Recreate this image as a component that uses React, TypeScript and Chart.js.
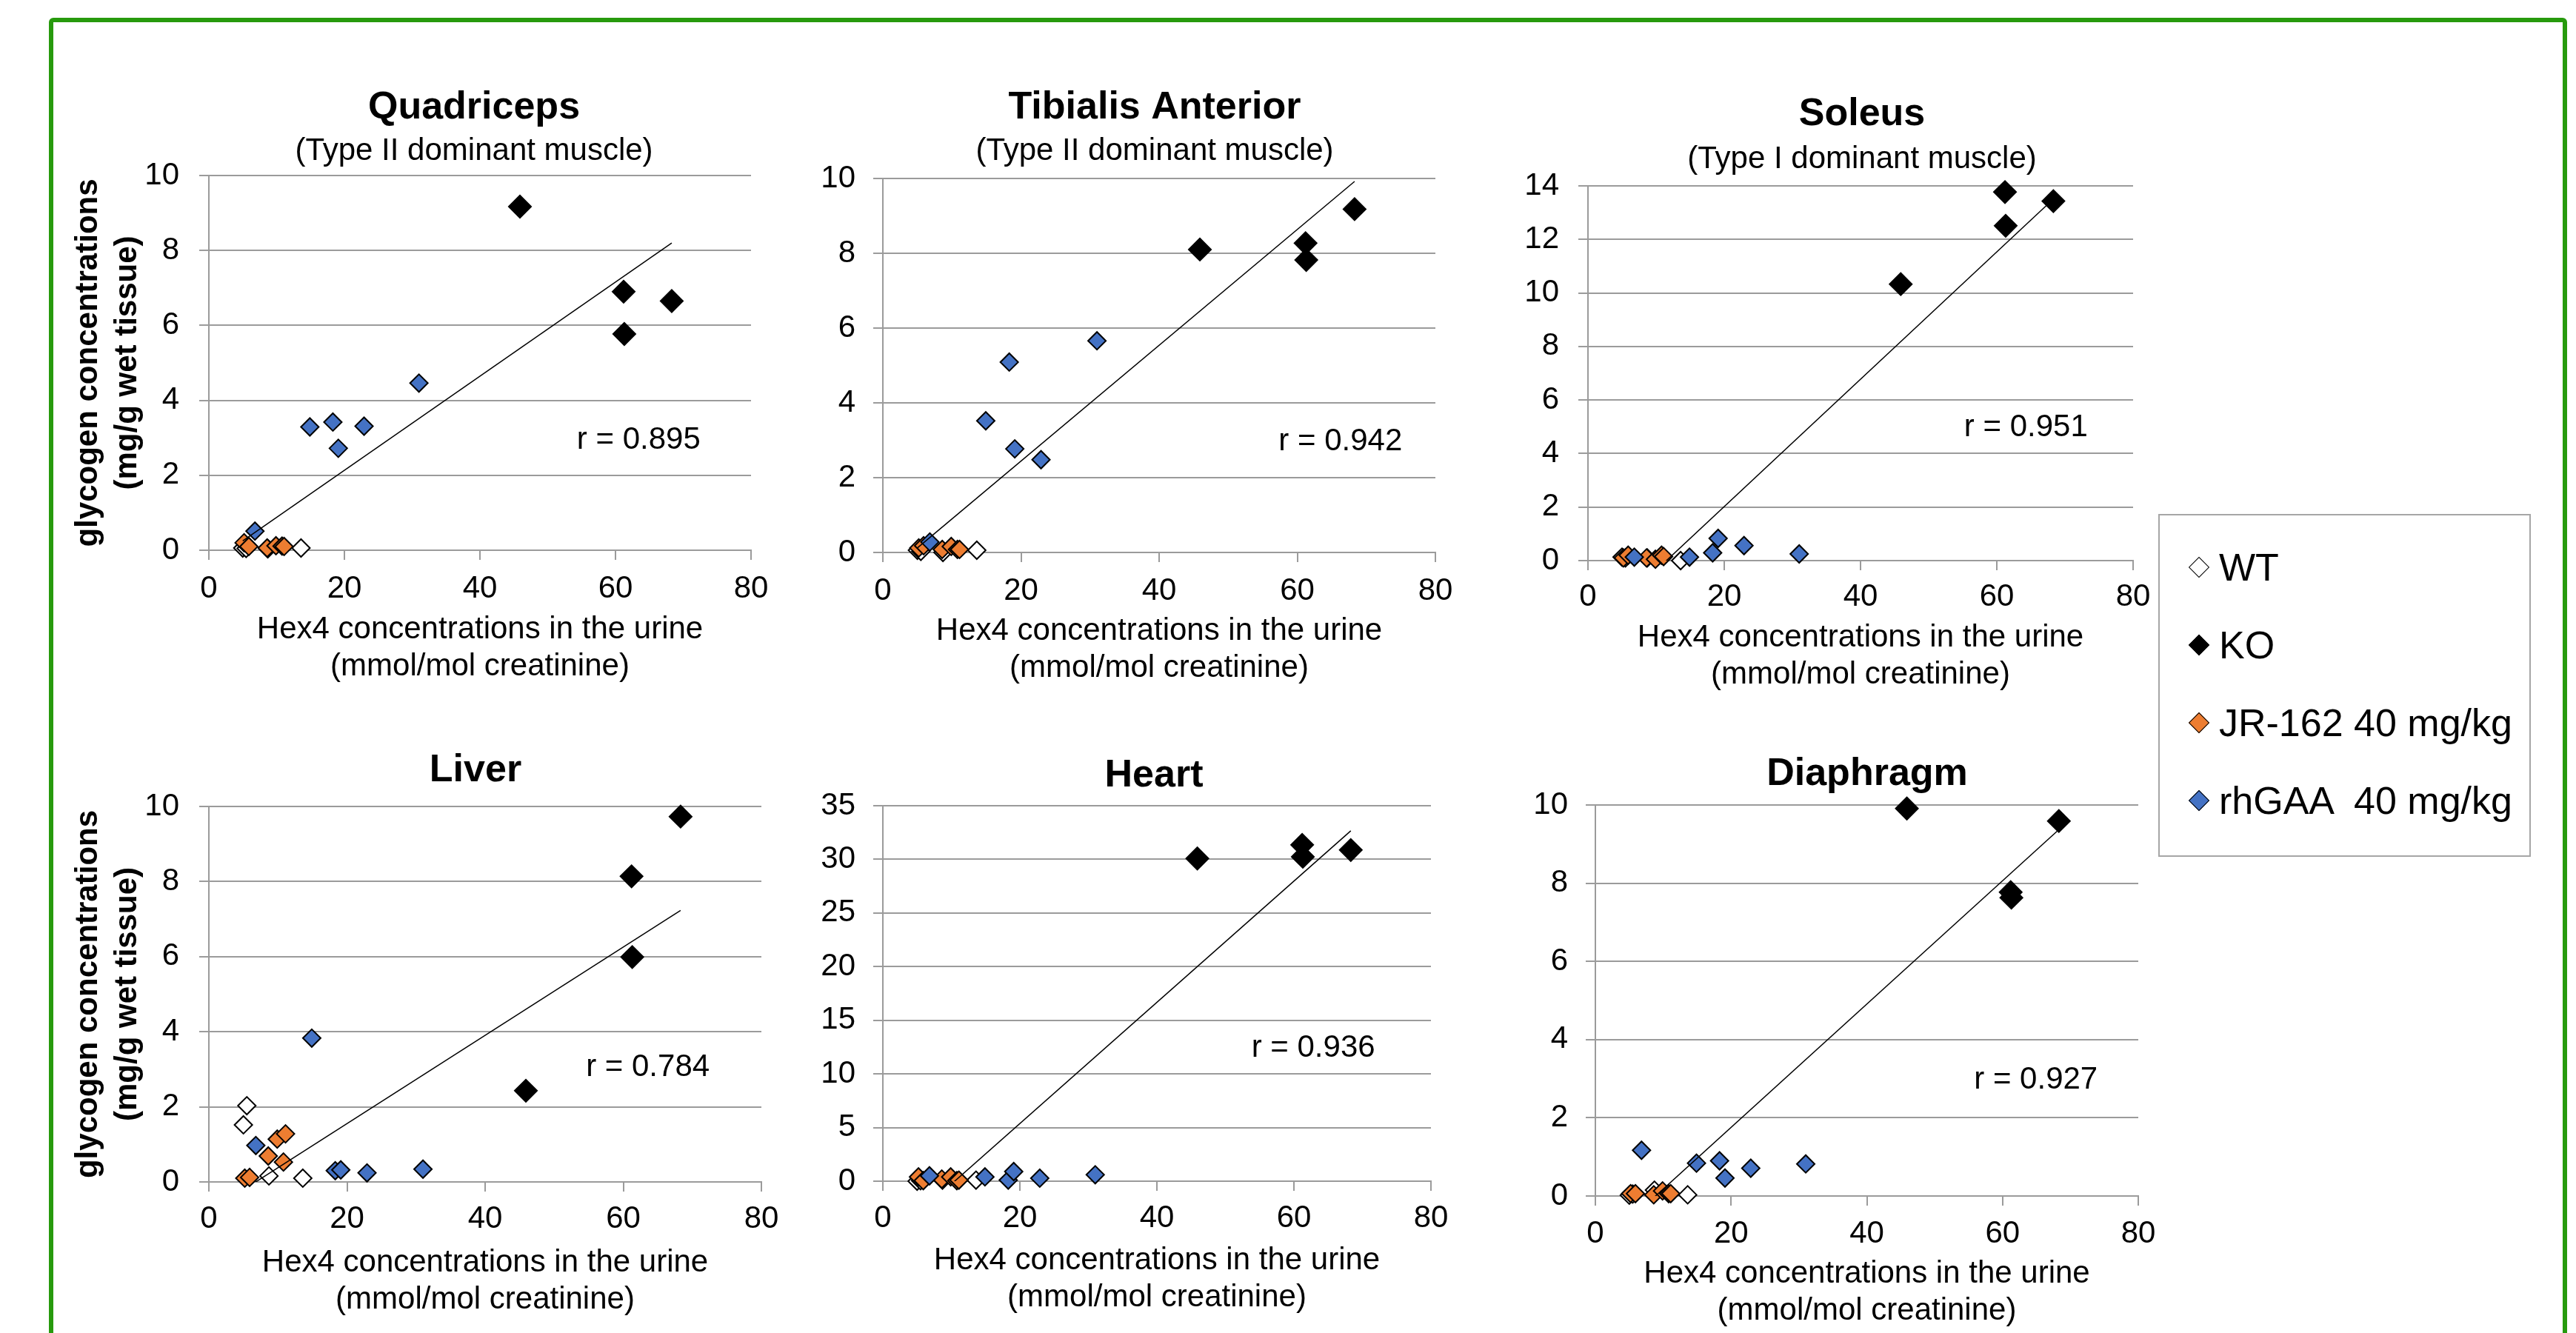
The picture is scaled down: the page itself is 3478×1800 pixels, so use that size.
import React, { useEffect, useRef } from "react";
import { Chart, registerables } from "chart.js";

Chart.register(...registerables);

const FONT = '"Liberation Sans", Arial, Helvetica, sans-serif';
Chart.defaults.font.family = FONT;
Chart.defaults.color = "#000";

// ---------------- DATA ----------------
const SERIES_NAMES = ["WT", "KO", "JR-162 40 mg/kg", "rhGAA  40 mg/kg"];
const SERIES_FILL = ["#FFFFFF", "#000000", "#ED7D31", "#4472C4"];

const PANEL_TITLES = ["Quadriceps", "Tibialis Anterior", "Soleus", "Liver", "Heart", "Diaphragm"];
const PANEL_SUBTITLES = ["(Type II dominant muscle)", "(Type II dominant muscle)", "(Type I dominant muscle)", "", "", ""];
const R_VALUES = [0.895, 0.942, 0.951, 0.784, 0.936, 0.927];
const Y_MAX = [10, 10, 14, 10, 35, 10];
const Y_STEP = [2, 2, 2, 2, 5, 2];
const X_MIN = 0;
const X_MAX = 80;
const X_STEP = 20;
const X_TITLE = ["Hex4 concentrations in the urine", "(mmol/mol creatinine)"];
const Y_TITLE = ["glycogen concentrations", "(mg/g wet tissue)"];

// Hex4 in urine (mmol/mol creatinine) for each animal
const WT_HEX4 = [5.0, 5.5, 8.7, 13.6];
const KO_HEX4 = [45.9, 61.2, 61.3, 68.3];
const JR_HEX4 = [5.2, 5.9, 8.6, 9.9, 10.8, 11.1];
const RH_HEX4 = [6.8, 14.9, 18.3, 19.1, 22.9, 31.0];
const TREND_X = [5.0, 68.3];

// glycogen (mg/g wet tissue)
const QUAD_WT = [0.06, 0.05, 0.04, 0.06];
const QUAD_KO = [9.17, 6.9, 5.77, 6.65];
const QUAD_JR = [0.2, 0.1, 0.06, 0.12, 0.11, 0.1];
const QUAD_RH = [0.51, 3.29, 3.42, 2.72, 3.31, 4.46];
const QUAD_TREND = [0.25, 8.2];

const TIB_WT = [0.06, 0.03, 0.0, 0.06];
const TIB_KO = [8.1, 8.27, 7.82, 9.18];
const TIB_JR = [0.12, 0.18, 0.08, 0.16, 0.08, 0.08];
const TIB_RH = [0.28, 3.52, 5.09, 2.77, 2.48, 5.66];
const TIB_TREND = [0.12, 9.92];

const SOL_WT = [0.13, 0.1, 0.1, 0.0];
const SOL_KO = [10.33, 13.77, 12.51, 13.43];
const SOL_JR = [0.1, 0.2, 0.1, 0.05, 0.2, 0.15];
const SOL_RH = [0.13, 0.13, 0.29, 0.83, 0.56, 0.25];
const SOL_TREND = [-1.55, 13.51];

const LIV_WT = [1.52, 2.03, 0.16, 0.1];
const LIV_KO = [2.43, 8.14, 5.99, 9.73];
const LIV_JR = [0.1, 0.12, 0.69, 1.14, 0.53, 1.28];
const LIV_RH = [0.97, 3.83, 0.3, 0.32, 0.24, 0.34];
const LIV_TREND = [-0.21, 7.23];

const HRT_WT = [0.0, 0.05, 0.1, 0.1];
const HRT_KO = [30.08, 31.35, 30.24, 30.87];
const HRT_JR = [0.4, 0.05, 0.2, 0.4, 0.05, 0.1];
const HRT_RH = [0.5, 0.4, 0.1, 0.9, 0.28, 0.6];
const HRT_TREND = [-3.1, 32.66];

const DIA_WT = [0.02, 0.05, 0.15, 0.03];
const DIA_KO = [9.91, 7.77, 7.63, 9.59];
const DIA_JR = [0.06, 0.06, 0.03, 0.13, 0.06, 0.06];
const DIA_RH = [1.17, 0.84, 0.9, 0.46, 0.71, 0.82];
const DIA_TREND = [-0.61, 9.37];

// where the "r = ..." annotation sits, in data units
const R_LABEL_AT = [
  [54.3, 2.94],
  [57.3, 2.97],
  [55.2, 4.98],
  [54.6, 3.04],
  [53.8, 12.4],
  [55.8, 2.97],
];

const PANEL_DATA = [
  [QUAD_WT, QUAD_KO, QUAD_JR, QUAD_RH, QUAD_TREND],
  [TIB_WT, TIB_KO, TIB_JR, TIB_RH, TIB_TREND],
  [SOL_WT, SOL_KO, SOL_JR, SOL_RH, SOL_TREND],
  [LIV_WT, LIV_KO, LIV_JR, LIV_RH, LIV_TREND],
  [HRT_WT, HRT_KO, HRT_JR, HRT_RH, HRT_TREND],
  [DIA_WT, DIA_KO, DIA_JR, DIA_RH, DIA_TREND],
];
const SERIES_X = [WT_HEX4, KO_HEX4, JR_HEX4, RH_HEX4];

// ---------------- LAYOUT (page pixels) ----------------
type Layout = {
  left: number; top: number; w: number; h: number;
  yW: number; padR: number; xH: number;
  tPad: [number, number]; sPad: [number, number];
  xTickPad: number; yTickPad: number; yTitle: boolean;
};
const LAYOUTS: Layout[] = [
  { left: 80, top: 100, w: 1120, h: 825, yW: 202, padR: 186, xH: 182, tPad: [14.8, 0], sPad: [1.6, 7.8], xTickPad: 14, yTickPad: 27, yTitle: true },
  { left: 1090, top: 100, w: 938, h: 827, yW: 102, padR: 90, xH: 181, tPad: [14.8, 0], sPad: [1.6, 11.8], xTickPad: 14, yTickPad: 24, yTitle: false },
  { left: 2040, top: 100, w: 948, h: 836, yW: 104, padR: 108, xH: 179, tPad: [23.8, 0], sPad: [3.6, 10.8], xTickPad: 11, yTickPad: 26, yTitle: false },
  { left: 80, top: 990, w: 1124, h: 790, yW: 202, padR: 176, xH: 184, tPad: [19.8, 16.8], sPad: [0, 0], xTickPad: 12, yTickPad: 27, yTitle: true },
  { left: 1090, top: 990, w: 936, h: 787, yW: 102, padR: 94, xH: 182, tPad: [26.8, 8.8], sPad: [0, 0], xTickPad: 12, yTickPad: 24, yTitle: false },
  { left: 2050, top: 990, w: 942, h: 805, yW: 104, padR: 105, xH: 180, tPad: [24.8, 9.8], sPad: [0, 0], xTickPad: 13, yTickPad: 24, yTitle: false },
];

const GRID = "#9b9b9b";
const MARKER_R = [12, 15, 12, 12];
const SERIES_ORDER = [4, 3, 2, 1];

function pts(xs: number[], ys: number[]) {
  return xs.map((x, i) => ({ x, y: ys[i] }));
}

function Panel({ idx }: { idx: number }) {
  const ref = useRef<HTMLCanvasElement>(null);
  const L = LAYOUTS[idx];
  useEffect(() => {
    const canvas = ref.current;
    if (!canvas) return;
    const series = PANEL_DATA[idx];
    const datasets: any[] = SERIES_NAMES.map((name, s) => ({
      label: name,
      data: pts(SERIES_X[s], series[s]),
      pointStyle: "rectRot",
      pointRadius: MARKER_R[s],
      pointHoverRadius: MARKER_R[s],
      pointBackgroundColor: SERIES_FILL[s],
      pointBorderColor: "#000",
      pointBorderWidth: 2,
      backgroundColor: SERIES_FILL[s],
      borderColor: "#000",
      showLine: false,
      order: SERIES_ORDER[s],
      clip: false,
    }));
    datasets.push({
      label: "trend",
      data: pts(TREND_X, series[4]),
      showLine: true,
      borderColor: "#000",
      borderWidth: 1.5,
      pointRadius: 0,
      pointHoverRadius: 0,
      fill: false,
      order: 0,
    });

    const rLabel = {
      id: "rLabel",
      afterDatasetsDraw(chart: any) {
        const { ctx, scales } = chart;
        const [rx, ry] = R_LABEL_AT[idx];
        ctx.save();
        ctx.font = `42px ${FONT}`;
        ctx.fillStyle = "#000";
        ctx.textAlign = "left";
        ctx.textBaseline = "middle";
        ctx.fillText(`r = ${R_VALUES[idx].toFixed(3)}`, scales.x.getPixelForValue(rx), scales.y.getPixelForValue(ry));
        ctx.restore();
      },
    };

    const hasSub = PANEL_SUBTITLES[idx] !== "";
    const chart = new Chart(canvas, {
      type: "scatter",
      data: { datasets },
      options: {
        responsive: false,
        maintainAspectRatio: false,
        animation: false,
        events: [],
        layout: { padding: 0 },
        plugins: {
          legend: { display: false },
          tooltip: { enabled: false },
          title: {
            display: true,
            text: PANEL_TITLES[idx],
            color: "#000",
            font: { size: 52, weight: "bold", family: FONT, lineHeight: 1.2 },
            padding: { top: L.tPad[0], bottom: L.tPad[1] },
          },
          subtitle: {
            display: hasSub,
            text: PANEL_SUBTITLES[idx],
            color: "#000",
            font: { size: 42, weight: "normal", family: FONT, lineHeight: 1.2 },
            padding: { top: L.sPad[0], bottom: L.sPad[1] },
          },
        },
        scales: {
          x: {
            type: "linear",
            min: X_MIN,
            max: X_MAX,
            ticks: { stepSize: X_STEP, color: "#000", font: { size: 42, family: FONT }, padding: L.xTickPad, maxRotation: 0 },
            grid: { display: true, drawOnChartArea: false, drawTicks: true, tickLength: 13, color: GRID, lineWidth: 2 },
            border: { display: true, color: GRID, width: 2 },
            title: {
              display: true,
              text: X_TITLE,
              color: "#000",
              font: { size: 42, family: FONT, lineHeight: 1.18 },
              padding: 0,
            },
            afterFit: (s: any) => {
              s.height = L.xH;
              s.paddingLeft = 0;
              s.paddingRight = L.padR;
            },
          },
          y: {
            type: "linear",
            min: 0,
            max: Y_MAX[idx],
            ticks: { stepSize: Y_STEP[idx], color: "#000", font: { size: 42, family: FONT }, padding: L.yTickPad },
            grid: { display: true, drawOnChartArea: true, drawTicks: true, tickLength: 13, color: GRID, lineWidth: 2 },
            border: { display: true, color: GRID, width: 2 },
            title: {
              display: L.yTitle,
              text: Y_TITLE,
              color: "#000",
              font: { size: 42, weight: "bold", family: FONT, lineHeight: 1.262 },
              padding: { top: 12.5, bottom: 0 },
            },
            afterFit: (s: any) => {
              s.width = L.yW;
              s.paddingTop = 0;
              s.paddingBottom = 0;
            },
          },
        },
      } as any,
      plugins: [rLabel],
    });
    return () => chart.destroy();
  }, [idx]);
  return (
    <canvas
      ref={ref}
      width={L.w}
      height={L.h}
      style={{ position: "absolute", left: L.left, top: L.top, width: L.w, height: L.h }}
    />
  );
}

const LEGEND_ROW_Y = [766, 871, 976, 1081];

function Legend() {
  return (
    <>
      <div
        style={{
          position: "absolute",
          left: 2914,
          top: 694,
          width: 503,
          height: 463,
          border: "2px solid #a6a6a6",
          boxSizing: "border-box",
          background: "#fff",
        }}
      />
      {SERIES_NAMES.map((name, i) => (
        <React.Fragment key={name}>
          <div
            style={{
              position: "absolute",
              left: 2969 - 10,
              top: LEGEND_ROW_Y[i] - 10,
              width: 20,
              height: 20,
              boxSizing: "border-box",
              background: SERIES_FILL[i],
              border: "1.5px solid #000",
              transform: "rotate(45deg)",
            }}
          />
          <div
            style={{
              position: "absolute",
              left: 2996,
              top: LEGEND_ROW_Y[i] - 26,
              height: 52,
              fontFamily: FONT,
              fontSize: 52,
              lineHeight: "52px",
              whiteSpace: "pre",
              color: "#000",
            }}
          >
            {name}
          </div>
        </React.Fragment>
      ))}
    </>
  );
}

export default function App() {
  return (
    <div
      style={{
        position: "absolute",
        left: 0,
        top: 0,
        width: 3478,
        height: 1800,
        overflow: "hidden",
        background: "#fff",
      }}
    >
      <div
        style={{
          position: "absolute",
          left: 66,
          top: 24,
          width: 3400,
          height: 1900,
          border: "6px solid #279a0d",
          borderRadius: 6,
          boxSizing: "border-box",
        }}
      />
      <Legend />
      {LAYOUTS.map((_, i) => (
        <Panel key={i} idx={i} />
      ))}
    </div>
  );
}
